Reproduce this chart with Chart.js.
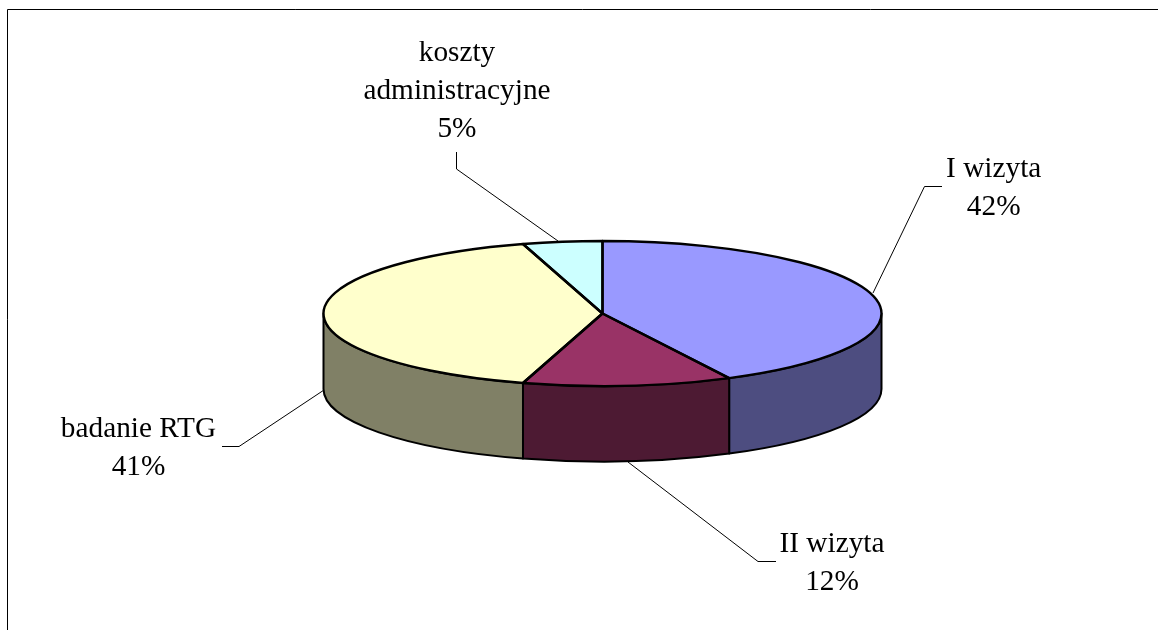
<!DOCTYPE html>
<html>
<head>
<meta charset="utf-8">
<style>html,body{margin:0;padding:0;background:#fff}canvas{display:block}</style>
<script src="https://cdn.jsdelivr.net/npm/chart.js@4"></script>
</head>
<body>
<canvas id="c" width="1158" height="630"></canvas>
<script>
const categories = ['I wizyta', 'II wizyta', 'badanie RTG', 'koszty administracyjne'];
const values = [42.5, 12.1, 40.8, 4.6];
const percentLabels = ['42%', '12%', '41%', '5%'];
const topColors = ['#9999FF', '#993366', '#FFFFCC', '#CCFFFF'];
const sideColors = ['#4D4D80', '#4D1A33', '#808066', '#668080'];
const labelLines = [['I wizyta', '42%'], ['II wizyta', '12%'], ['badanie RTG', '41%'], ['koszty', 'administracyjne', '5%']];
const labelAnchors = [[993.7, 177], [832, 552], [138.5, 437], [457, 61]];
const leaders = [
  [[942, 186.5], [924.5, 186.5], [873, 293]],
  [[776, 561.5], [758, 561.5], [628, 462]],
  [[222, 446.5], [239, 446.5], [324, 390]],
  [[456.5, 152], [456.5, 169], [558, 241]]
];
const TILT = 72.5 / 279, DEPTH = 75.5, LINE_GAP = 38;

function slices(chart) {
  return chart.getDatasetMeta(0).data.map(a => a.getProps(['x', 'y', 'startAngle', 'endAngle', 'outerRadius'], true));
}
const pie3d = {
  id: 'pie3d',
  beforeDatasetsDraw(chart) {
    const ctx = chart.ctx, S = slices(chart);
    // frame
    ctx.save();
    ctx.strokeStyle = '#000'; ctx.lineWidth = 1;
    ctx.beginPath(); ctx.moveTo(7.5, 630); ctx.lineTo(7.5, 9.5); ctx.lineTo(1158, 9.5); ctx.stroke();
    ctx.restore();
    // side wall
    S.forEach((s, i) => {
      const a = Math.max(s.startAngle, 0), b = Math.min(s.endAngle, Math.PI);
      if (b <= a) return;
      const ry = s.outerRadius * TILT;
      ctx.save();
      ctx.beginPath();
      ctx.ellipse(s.x, s.y, s.outerRadius, ry, 0, a, b);
      ctx.ellipse(s.x, s.y + DEPTH, s.outerRadius, ry, 0, b, a, true);
      ctx.closePath();
      ctx.fillStyle = sideColors[i];
      ctx.fill();
      ctx.strokeStyle = '#000'; ctx.lineWidth = 2; ctx.lineJoin = 'round';
      ctx.stroke();
      ctx.restore();
    });
    // squash the library's own arcs into the ellipse of the top face
    const s0 = S[0];
    ctx.save();
    ctx.translate(0, s0.y);
    ctx.scale(1, TILT);
    ctx.translate(0, -s0.y);
  },
  afterDatasetsDraw(chart) {
    const ctx = chart.ctx, S = slices(chart);
    ctx.restore();
    ctx.save();
    ctx.strokeStyle = '#000'; ctx.lineWidth = 2.4; ctx.lineJoin = 'round';
    S.forEach(s => {
      ctx.beginPath();
      ctx.moveTo(s.x, s.y);
      ctx.ellipse(s.x, s.y, s.outerRadius, s.outerRadius * TILT, 0, s.startAngle, s.endAngle);
      ctx.closePath();
      ctx.stroke();
    });
    ctx.restore();
  },
  afterDraw(chart) {
    const ctx = chart.ctx;
    ctx.save();
    ctx.strokeStyle = '#000'; ctx.lineWidth = 1;
    leaders.forEach(l => {
      ctx.beginPath();
      l.forEach((p, i) => i ? ctx.lineTo(p[0], p[1]) : ctx.moveTo(p[0], p[1]));
      ctx.stroke();
    });
    ctx.fillStyle = '#000';
    ctx.font = '29.3px "Liberation Serif"';
    ctx.textAlign = 'center'; ctx.textBaseline = 'alphabetic';
    labelLines.forEach((lines, i) => {
      lines.forEach((t, j) => ctx.fillText(t, labelAnchors[i][0], labelAnchors[i][1] + j * LINE_GAP));
    });
    ctx.restore();
  }
};
new Chart(document.getElementById('c'), {
  type: 'pie',
  data: {
    labels: categories,
    datasets: [{ data: values, backgroundColor: topColors, borderWidth: 0, clip: false }]
  },
  options: {
    responsive: false,
    devicePixelRatio: 1,
    animation: false,
    layout: { padding: { left: 47, top: 34.5, bottom: 37.5, right: 0 } },
    plugins: { legend: { display: false }, tooltip: { enabled: false } }
  },
  plugins: [pie3d]
});
</script>
</body>
</html>
